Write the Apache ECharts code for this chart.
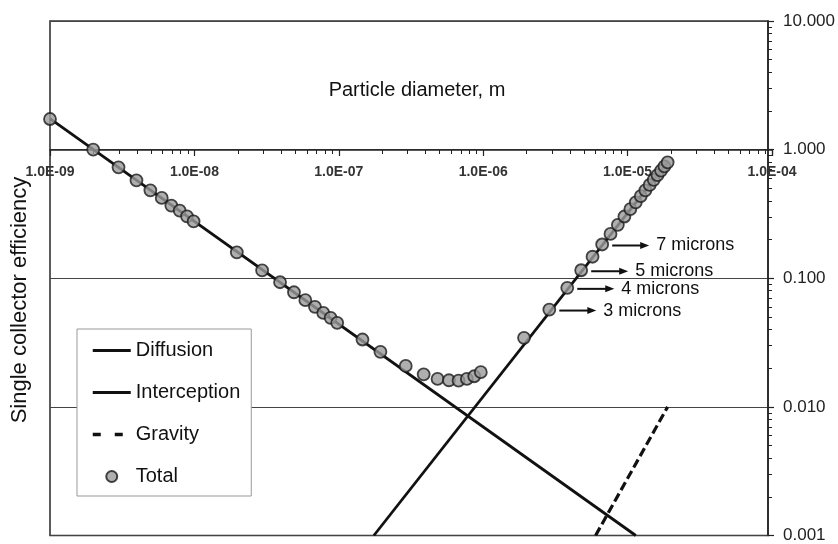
<!DOCTYPE html>
<html>
<head>
<meta charset="utf-8">
<script src="https://cdn.jsdelivr.net/npm/echarts@6/dist/echarts.min.js"></script>
<style>html,body{margin:0;padding:0;background:#fff;}#c{width:838px;height:544px;}</style>
</head>
<body>
<div id="c"></div>
<script>
// Particle diameter (m) of the "Total" points
const totalD = [1e-9,2e-9,3e-9,4e-9,5e-9,6e-9,7e-9,8e-9,9e-9,1e-8,
  2e-8,3e-8,4e-8,5e-8,6e-8,7e-8,8e-8,9e-8,1e-7,1.5e-7,2e-7,3e-7,4e-7,5e-7,6e-7,7e-7,8e-7,9e-7,1e-6,
  2e-6,3e-6,4e-6,5e-6,6e-6,7e-6,8e-6,9e-6,1e-5,1.1e-5,1.2e-5,1.3e-5,1.4e-5,1.5e-5,1.6e-5,1.7e-5,1.8e-5,1.9e-5,2e-5];
// Single collector efficiency (Total)
const totalV = [1.73,1.0,0.729,0.577,0.483,0.421,0.367,0.336,0.303,0.277,
  0.159,0.115,0.0931,0.0778,0.0675,0.0600,0.0538,0.0492,0.0450,0.0334,0.0268,0.0208,0.0179,0.0165,0.0161,0.0160,0.0165,0.0173,0.0186,
  0.0344,0.0571,0.0842,0.1154,0.147,0.183,0.221,0.260,0.302,0.345,0.389,0.435,0.483,0.532,0.582,0.634,0.687,0.741,0.796];
// Mechanism lines (straight on log-log axes)
const diffusionD = [1e-9, 1.2e-5];
const diffusionV = [1.74, 0.001];
const interceptionD = [1.8e-7, 2e-5];
const interceptionV = [0.001, 0.8];
const gravityD = [6.3e-6, 2e-5];
const gravityV = [0.001, 0.01];
// Annotations
const annotLabels = ['3 microns','4 microns','5 microns','7 microns'];
const annotD = [3e-6, 4e-6, 5e-6, 7e-6];
const annotV = [0.0571, 0.0842, 0.1154, 0.183];
// Axes
const xMin = 1e-9, xMax = 1e-4;
const yMin = 0.001, yMax = 10;
const seriesNames = ['Diffusion','Interception','Gravity','Total'];

const FONT = "'Liberation Sans', Arial, Helvetica, sans-serif";
const zip = (a,b) => a.map((v,i)=>[v,b[i]]);
function expLabel(v){
  const e = Math.round(Math.log10(v));
  const s = e < 0 ? '-' : '+';
  const a = Math.abs(e);
  return '1.0E' + s + (a < 10 ? '0' + a : '' + a);
}
const noSym = {color: 'rgba(0,0,0,0)', borderWidth: 0, opacity: 0};

const chart = echarts.init(document.getElementById('c'), null, {renderer:'canvas'});
chart.setOption({
  animation: false,
  backgroundColor: '#fff',
  textStyle: {fontFamily: FONT},
  grid: [
    {left: 50, right: 66, top: 21, bottom: 8, show: true, borderColor: '#333', borderWidth: 1.6, backgroundColor: 'transparent'},
    {left: 50, right: 66, top: 21, height: 129, show: false}
  ],
  xAxis: [
    {type: 'log', gridIndex: 0, min: xMin, max: xMax, logBase: 10, show: false},
    {type: 'log', gridIndex: 1, min: xMin, max: xMax, logBase: 10, position: 'bottom',
     axisLine: {show: true, lineStyle: {color: '#222', width: 1.5}},
     axisTick: {show: true, length: 6, lineStyle: {color: '#222', width: 1.2}},
     minorTick: {show: true, splitNumber: 9, length: 4, lineStyle: {color: '#222', width: 1}},
     axisLabel: {margin: 15, fontSize: 14, fontWeight: 'bold', color: '#333', fontFamily: FONT, formatter: expLabel},
     splitLine: {show: false}}
  ],
  yAxis: [
    {type: 'log', gridIndex: 0, min: yMin, max: yMax, logBase: 10, position: 'right',
     axisLine: {show: true, lineStyle: {color: '#222', width: 1.5}},
     axisTick: {show: true, length: 6, lineStyle: {color: '#222', width: 1.2}},
     minorTick: {show: true, splitNumber: 9, length: 4, lineStyle: {color: '#222', width: 1}},
     axisLabel: {margin: 15, fontSize: 17, color: '#222', fontFamily: FONT, formatter: v => v.toFixed(3)},
     splitLine: {show: true, lineStyle: {color: '#444', width: 1}}},
    {type: 'value', gridIndex: 1, show: false}
  ],
  legend: {
    orient: 'vertical', left: 77, top: 329,
    padding: [11, 11, 9, 14],
    itemWidth: 38, itemHeight: 11, itemGap: 21,
    borderColor: '#999', borderWidth: 1, backgroundColor: '#fff',
    textStyle: {fontSize: 20, color: '#111', fontFamily: FONT, lineHeight: 21},
    data: [
      {name: 'Diffusion', itemStyle: noSym, lineStyle: {width: 3}},
      {name: 'Interception', itemStyle: noSym, lineStyle: {width: 3}},
      {name: 'Gravity', itemStyle: noSym, lineStyle: {type: [8, 14], width: 3.5}},
      {name: 'Total'}
    ]
  },
  graphic: [
    {type: 'text', x: 417, y: 90, style: {text: 'Particle diameter, m', fontSize: 20, fill: '#111', fontFamily: FONT, textAlign: 'center', textVerticalAlign: 'middle'}},
    {type: 'text', x: 20, y: 300, rotation: Math.PI/2, style: {text: 'Single collector efficiency', fontSize: 22, fill: '#111', fontFamily: FONT, textAlign: 'center', textVerticalAlign: 'middle'}}
  ],
  series: [
    {name: seriesNames[0], type: 'line', xAxisIndex: 0, yAxisIndex: 0, data: zip(diffusionD, diffusionV), symbol: 'none', lineStyle: {color: '#111', width: 2.8}, itemStyle: {color: '#111'}, z: 2},
    {name: seriesNames[1], type: 'line', xAxisIndex: 0, yAxisIndex: 0, data: zip(interceptionD, interceptionV), symbol: 'none', lineStyle: {color: '#111', width: 2.8}, itemStyle: {color: '#111'}, z: 2},
    {name: seriesNames[2], type: 'line', xAxisIndex: 0, yAxisIndex: 0, data: zip(gravityD, gravityV), symbol: 'none', lineStyle: {color: '#111', width: 3.2, type: [9, 4]}, itemStyle: {color: '#111'}, z: 2},
    {name: seriesNames[3], type: 'scatter', xAxisIndex: 0, yAxisIndex: 0, data: zip(totalD, totalV), symbol: 'circle', symbolSize: 12,
     itemStyle: {color: '#9b9b9b', borderColor: '#1a1a1a', borderWidth: 1.8}, z: 5},
    {type: 'custom', xAxisIndex: 0, yAxisIndex: 0, data: zip(annotD, annotV), z: 6,
     renderItem: function(params, api){
       const p = api.coord([api.value(0), api.value(1)]);
       const y = p[1] + 1, x0 = p[0] + 10, x1 = p[0] + 47;
       return {type: 'group', children: [
         {type: 'line', shape: {x1: x0, y1: y, x2: x1 - 7, y2: y}, style: {stroke: '#111', lineWidth: 2}},
         {type: 'polygon', shape: {points: [[x1, y], [x1 - 9, y - 3.5], [x1 - 9, y + 3.5]]}, style: {fill: '#111'}},
         {type: 'text', x: p[0] + 54, y: y, style: {text: annotLabels[params.dataIndex], fontSize: 18, fill: '#111', fontFamily: FONT, textVerticalAlign: 'middle'}}
       ]};
     }}
  ]
});
</script>
</body>
</html>
